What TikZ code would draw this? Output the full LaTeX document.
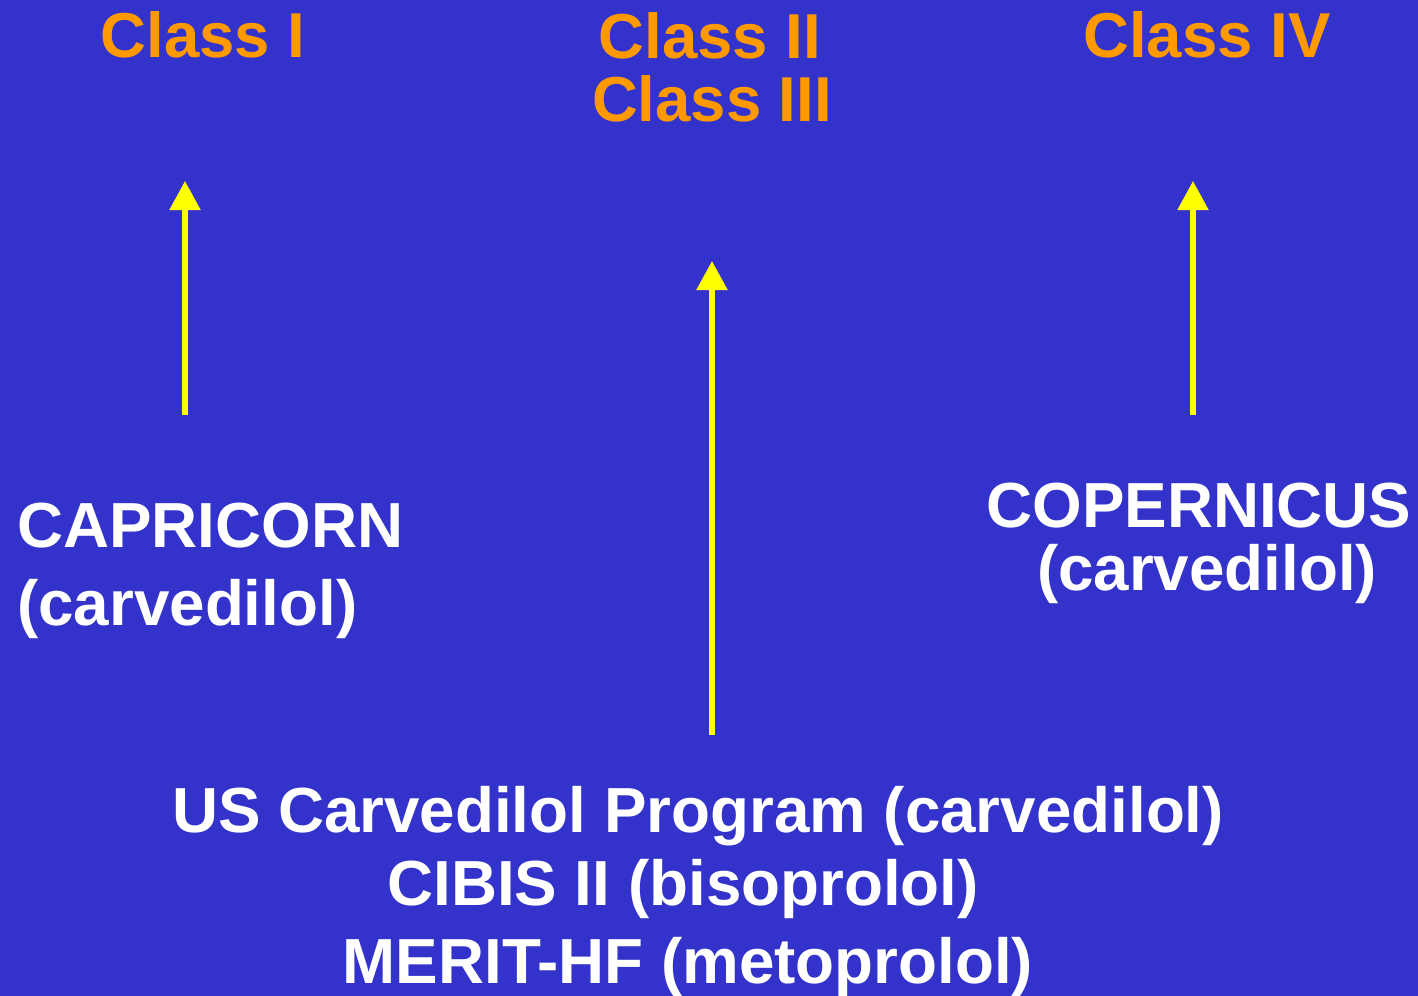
\documentclass[tikz,border=0pt]{standalone}
\usepackage{fontspec}
\setmainfont{Liberation Sans}
\usetikzlibrary{arrows.meta}
\definecolor{slideblue}{RGB}{51,51,204}
\definecolor{classorange}{RGB}{255,153,0}
\definecolor{arrowyellow}{RGB}{255,255,0}

\begin{document}
\begin{tikzpicture}[x=0.75pt,y=0.75pt,yscale=-1,xscale=1,
  classtxt/.style={anchor=base,inner sep=0pt,text=classorange,font=\fontsize{47.6}{47.6}\selectfont\bfseries},
  trialtxt/.style={anchor=base,inner sep=0pt,text=white,font=\fontsize{47.8}{47.8}\selectfont\bfseries},
  uparrow/.style={draw=arrowyellow,line width=4pt,-{Triangle[length=21.75pt,width=22.5pt]}}]
%set diagram size 1418 x 996, blue slide background
\fill [slideblue] (0,0) rectangle (1418,996);
\useasboundingbox (0,0) rectangle (1418,996);

% Text Node
\draw (203,57) node (cls1) [classtxt] {Class I};
% Text Node
\draw (710,58) node (cls2) [classtxt] {Class II};
% Text Node
\draw (712,121) node (cls3) [classtxt] {Class III};
% Text Node
\draw (1207,57) node (cls4) [classtxt] {Class IV};

% Text Node
\draw (17,547) node (capri) [trialtxt,anchor=base west] {CAPRICORN};
% Text Node
\draw (17,625) node (capridrug) [trialtxt,anchor=base west] {(carvedilol)};
% Text Node
\draw (1199,527) node (coper) [trialtxt] {COPERNICUS};
% Text Node
\draw (1207,590) node (coperdrug) [trialtxt] {(carvedilol)};
% Text Node
\draw (698,832) node (usprog) [trialtxt] {US Carvedilol Program (carvedilol)};
% Text Node
\draw (683,905) node (cibis) [trialtxt] {CIBIS II (bisoprolol)};
% Text Node
\draw (688,983) node (merit) [trialtxt] {MERIT-HF (metoprolol)};

%Arrow ends
\coordinate (lefttail) at (185,415);
\coordinate (lefthead) at (185,181);
\coordinate (midtail) at (712,735);
\coordinate (midhead) at (712,261);
\coordinate (righttail) at (1193,415);
\coordinate (righthead) at (1193,181);

%Straight Lines
\draw [uparrow] (lefttail) -- (lefthead);
\draw [uparrow] (midtail) -- (midhead);
\draw [uparrow] (righttail) -- (righthead);
\end{tikzpicture}
\end{document}
